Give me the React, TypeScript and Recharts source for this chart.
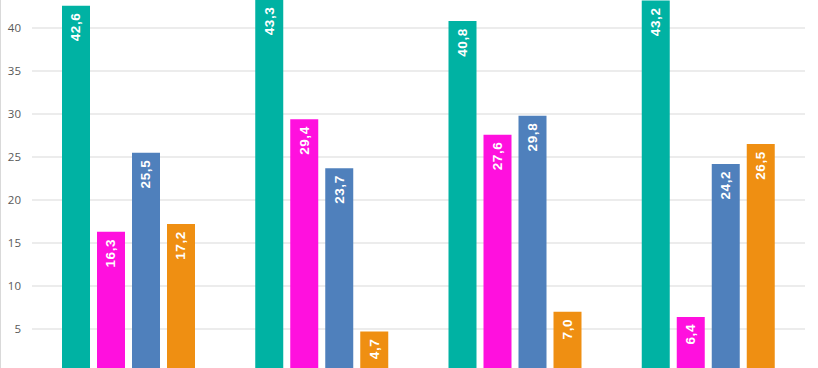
import React from "react";
import { BarChart, Bar, XAxis, YAxis, CartesianGrid, LabelList } from "recharts";

const categories = ["Gruppe 1", "Gruppe 2", "Gruppe 3", "Gruppe 4"];
const series1 = [42.6, 43.3, 40.8, 43.2];
const series2 = [16.3, 29.4, 27.6, 6.4];
const series3 = [25.5, 23.7, 29.8, 24.2];
const series4 = [17.2, 4.7, 7.0, 26.5];
const yTicks = [5, 10, 15, 20, 25, 30, 35, 40];

const colors = ["#00B2A3", "#FF10DE", "#4F80BC", "#EF8F12"];

const data = categories.map((c, i) => ({
  name: c,
  s1: series1[i],
  s2: series2[i],
  s3: series3[i],
  s4: series4[i],
}));

const fmt = (v: number) => v.toFixed(1).replace(".", ",");

const renderLabel = (props: any) => {
  const { x, y, width, value } = props;
  const cx = Number(x) + Number(width) / 2;
  const ty = Number(y) + 7;
  return (
    <text
      x={cx}
      y={ty}
      transform={`rotate(-90 ${cx} ${ty})`}
      textAnchor="end"
      dominantBaseline="central"
      fill="#ffffff"
      fontSize={13.5}
      letterSpacing={0.6}
      fontWeight="bold"
      fontFamily="'Liberation Sans', Arial, sans-serif"
    >
      {fmt(Number(value))}
    </text>
  );
};

export default function App() {
  const keys = ["s1", "s2", "s3", "s4"];
  return (
    <div
      style={{
        position: "absolute",
        left: 0,
        top: 0,
        width: 818,
        height: 368,
        overflow: "hidden",
        background: "#ffffff",
      }}
    >
      <div
        style={{
          position: "absolute",
          left: 0,
          top: 0,
          width: 1,
          height: 368,
          background: "#d9d9d9",
        }}
      />
      <div style={{ position: "absolute", left: 0, top: -15 }}>
        <BarChart
          width={818}
          height={387}
          data={data}
          margin={{ top: 0, right: 13, bottom: 0, left: 0 }}
          barSize={28}
          barGap={7}
        >
          <CartesianGrid vertical={false} stroke="#d9d9d9" />
          <XAxis dataKey="name" hide />
          <YAxis
            width={32}
            domain={[0, 45]}
            ticks={yTicks}
            axisLine={false}
            tickLine={false}
            tickSize={0}
            tickMargin={11}
            tick={{ fill: "#595959", fontSize: 11.5, fontFamily: "'Open Sans', sans-serif" }}
          />
          {keys.map((k, i) => (
            <Bar key={k} dataKey={k} fill={colors[i]} isAnimationActive={false}>
              <LabelList dataKey={k} content={renderLabel} />
            </Bar>
          ))}
        </BarChart>
      </div>
    </div>
  );
}
